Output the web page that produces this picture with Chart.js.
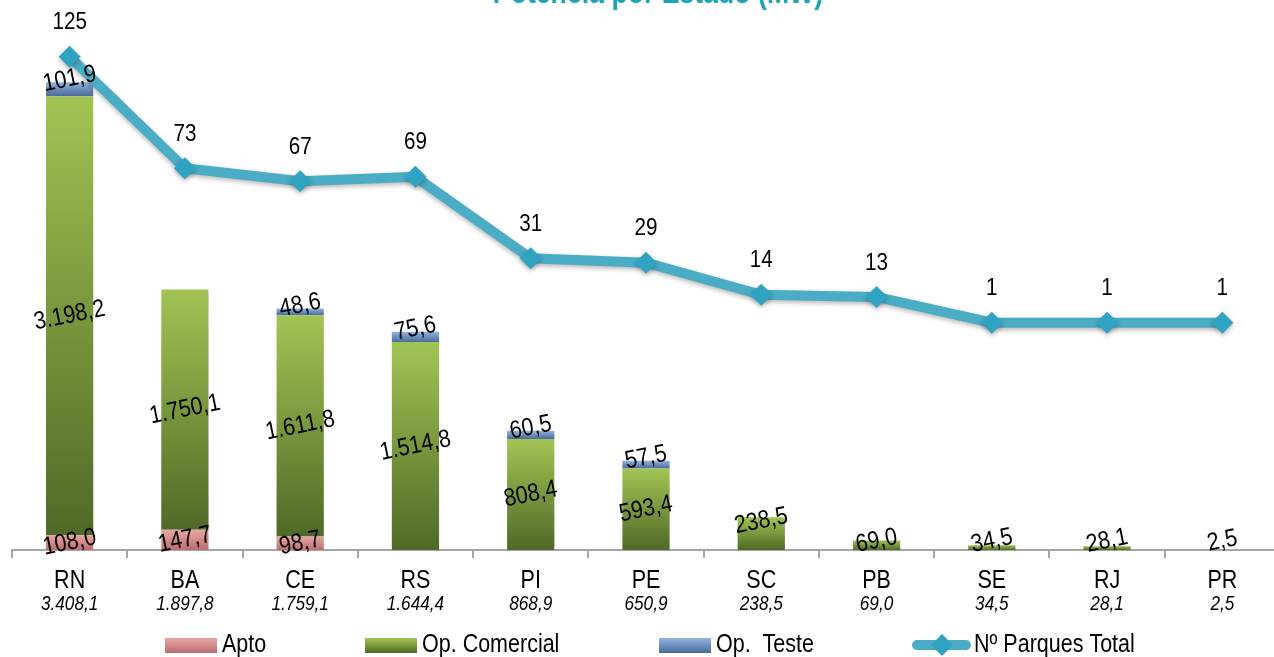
<!DOCTYPE html>
<html>
<head>
<meta charset="utf-8">
<script src="https://cdn.jsdelivr.net/npm/chart.js@4.4.1/dist/chart.umd.min.js"></script>
<style>
  html, body { margin: 0; padding: 0; background: #fff; overflow: hidden; }
  #c { display: block; }
</style>
</head>
<body>
<canvas id="c" width="1290" height="657"></canvas>
<script>
// Potência por estado (MW) + número de parques
const states = ['RN', 'BA', 'CE', 'RS', 'PI', 'PE', 'SC', 'PB', 'SE', 'RJ', 'PR'];
const totals = ['3.408,1', '1.897,8', '1.759,1', '1.644,4', '868,9', '650,9', '238,5', '69,0', '34,5', '28,1', '2,5'];
const apto = [108.0, 147.7, 98.7, 0, 0, 0, 0, 0, 0, 0, 0];
const opComercial = [3198.2, 1750.1, 1611.8, 1514.8, 808.4, 593.4, 238.5, 69.0, 34.5, 28.1, 2.5];
const opTeste = [101.9, 0, 48.6, 75.6, 60.5, 57.5, 0, 0, 0, 0, 0];
const parques = [125, 73, 67, 69, 31, 29, 14, 13, 1, 1, 1];

const FONT = "'Liberation Sans', Arial, sans-serif";
const NARROW_X = 0.86; // fake "Arial Narrow"
const zeros = states.map(() => 0);
const baseTeste = apto.map((a, i) => a + opComercial[i]);

function fmt(v) {
  const s = v.toFixed(1).split('.');
  return s[0].replace(/\B(?=(\d{3})+(?!\d))/g, '.') + ',' + s[1];
}

// condensed text: scale the glyphs horizontally
function ntext(ctx, s, x, y, font, rot) {
  ctx.save();
  ctx.translate(x, y);
  if (rot) ctx.rotate(rot);
  ctx.scale(NARROW_X, 1);
  ctx.font = font;
  ctx.fillText(s, 0, 0);
  ctx.restore();
}

function barGrad(base, vals, light, dark) {
  return c => {
    const ch = c.chart;
    if (!ch.chartArea || c.dataIndex == null) return light;
    const y = ch.scales.y, i = c.dataIndex;
    const top = y.getPixelForValue(base[i] + vals[i]);
    const bot = y.getPixelForValue(base[i]);
    if (!(bot > top)) return light;
    const g = ch.ctx.createLinearGradient(0, top, 0, bot);
    g.addColorStop(0, light);
    g.addColorStop(1, dark);
    return g;
  };
}

const COLORS = {
  apto: ['#e8a5a4', '#b9706f'],
  com: ['#a2c454', '#4f6a27'],
  teste: ['#93b5e0', '#4a6a99'],
  line: '#4bacc6',
  marker: '#31a3c2'
};

const decor = {
  id: 'decor',
  beforeDatasetDraw(chart, args) {
    if (args.meta.type === 'line') {
      const ctx = chart.ctx;
      ctx.save();
      ctx.shadowColor = 'rgba(0,0,0,0.3)';
      ctx.shadowBlur = 5;
      ctx.shadowOffsetY = 2;
    }
  },
  afterDatasetDraw(chart, args) {
    if (args.meta.type === 'line') chart.ctx.restore();
  },
  afterDraw(chart) {
    const ctx = chart.ctx;
    const xs = chart.scales.x;
    ctx.save();
    ctx.textAlign = 'center';

    // title (mostly above the visible area)
    ctx.fillStyle = '#1ea5b5';
    ctx.textBaseline = 'alphabetic';
    ntext(ctx, 'Potência por Estado (MW)', 658, 3, 'bold 31px ' + FONT);

    // bar segment labels, slightly rotated
    ctx.fillStyle = '#000';
    ctx.textBaseline = 'middle';
    [0, 1, 2].forEach(di => {
      const ds = chart.data.datasets[di];
      chart.getDatasetMeta(di).data.forEach((el, i) => {
        const v = ds.data[i];
        if (!v) return;
        let cy = (el.y + el.base) / 2;
        if (di === 1 && el.base - el.y < 40) cy = Math.min(el.y + 4, el.base - 9);
        if (di === 2) cy = el.y - 3;
        ntext(ctx, fmt(v), el.x, cy, '25px ' + FONT, -0.2);
      });
    });

    // line labels
    chart.getDatasetMeta(3).data.forEach((pt, i) => {
      ntext(ctx, String(parques[i]), pt.x, pt.y - 34, '24px ' + FONT);
    });

    // category labels with totals
    states.forEach((s, i) => {
      const x = xs.getPixelForValue(i);
      ntext(ctx, s, x, 581, '25px ' + FONT);
      ntext(ctx, totals[i], x, 604, 'italic 20px ' + FONT);
    });

    // legend
    const items = [
      { x: 165, label: 'Apto', c: COLORS.apto },
      { x: 365, label: 'Op. Comercial', c: COLORS.com },
      { x: 659, label: 'Op.  Teste', c: COLORS.teste }
    ];
    ctx.textAlign = 'left';
    ctx.textBaseline = 'alphabetic';
    items.forEach(it => {
      const g = ctx.createLinearGradient(0, 638, 0, 653);
      g.addColorStop(0, it.c[0]);
      g.addColorStop(1, it.c[1]);
      ctx.fillStyle = g;
      ctx.fillRect(it.x, 638, 52, 15);
      ctx.fillStyle = '#000';
      ntext(ctx, it.label, it.x + 57, 652, '25px ' + FONT);
    });
    ctx.strokeStyle = COLORS.line;
    ctx.lineWidth = 10;
    ctx.lineCap = 'round';
    ctx.beginPath();
    ctx.moveTo(917, 645);
    ctx.lineTo(966, 645);
    ctx.stroke();
    ctx.fillStyle = COLORS.marker;
    ctx.beginPath();
    ctx.moveTo(942, 634); ctx.lineTo(953, 645); ctx.lineTo(942, 656); ctx.lineTo(931, 645);
    ctx.closePath();
    ctx.fill();
    ctx.fillStyle = '#000';
    ntext(ctx, 'Nº Parques Total', 974, 652, '25px ' + FONT);
    ctx.restore();
  }
};

new Chart(document.getElementById('c').getContext('2d'), {
  type: 'bar',
  data: {
    labels: states,
    datasets: [
      { label: 'Apto', data: apto, backgroundColor: barGrad(zeros, apto, COLORS.apto[0], COLORS.apto[1]),
        yAxisID: 'y', order: 1, barPercentage: 0.41, categoryPercentage: 1 },
      { label: 'Op. Comercial', data: opComercial, backgroundColor: barGrad(apto, opComercial, COLORS.com[0], COLORS.com[1]),
        yAxisID: 'y', order: 1, barPercentage: 0.41, categoryPercentage: 1 },
      { label: 'Op.  Teste', data: opTeste, backgroundColor: barGrad(baseTeste, opTeste, COLORS.teste[0], COLORS.teste[1]),
        yAxisID: 'y', order: 1, barPercentage: 0.41, categoryPercentage: 1 },
      { label: 'Nº Parques Total', type: 'line', data: parques, yAxisID: 'y2', order: 0,
        borderColor: COLORS.line, borderWidth: 10, backgroundColor: COLORS.marker,
        pointStyle: 'rectRot', pointRadius: 11, pointBorderWidth: 0, pointBackgroundColor: COLORS.marker,
        tension: 0, fill: false, clip: false }
    ]
  },
  options: {
    responsive: false,
    animation: false,
    layout: { autoPadding: false, padding: { left: 12, right: 10, top: 1, bottom: 0 } },
    plugins: { legend: { display: false }, tooltip: { enabled: false }, title: { display: false } },
    scales: {
      x: {
        stacked: true,
        offset: true,
        afterFit: s => { s.height = 107; },
        grid: { display: true, offset: true, drawOnChartArea: false, drawTicks: true, tickLength: 8, color: '#a6a6a6', lineWidth: 2 },
        border: { display: true, color: '#a6a6a6', width: 2 },
        ticks: { display: false }
      },
      y: { stacked: true, display: false, min: 0, max: 4000 },
      y2: { display: false, min: -105, max: 151 }
    }
  },
  plugins: [decor]
});
</script>
</body>
</html>
